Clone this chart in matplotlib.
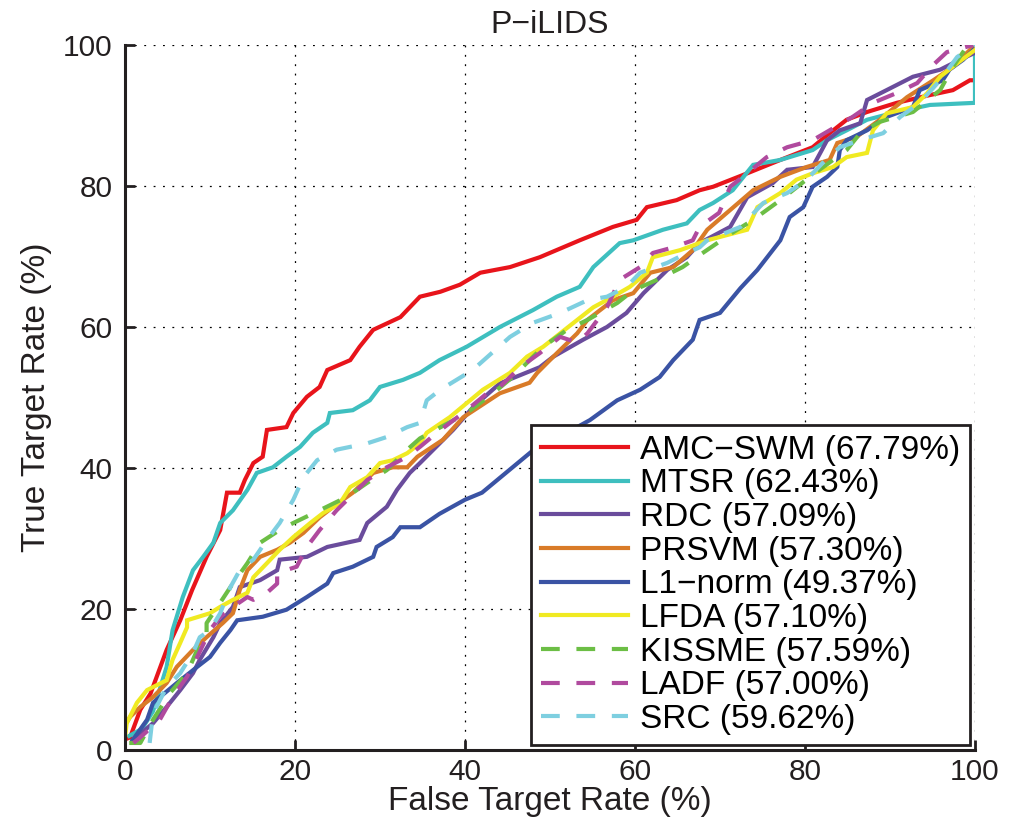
import matplotlib
matplotlib.use("Agg")
import matplotlib.pyplot as plt

# ===== data =====
amc_x = [0, 0.6, 1.8, 3.0, 4.9, 6.5, 7.9, 9.6, 11.2, 12.0, 13.5, 14.1, 15.1, 16.2, 16.7, 19.0, 19.8, 21.4,
         22.9, 23.8, 26.5, 27.6, 29.2, 32.4, 34.7, 37.1, 39.4, 41.8, 45.3, 48.8, 53.5, 57.4, 60.2, 61.4,
         64.9, 67.6, 69.2, 73.2, 77.1, 80.9, 82.9, 84.9, 87.3, 90.8, 94.7, 97.4, 99.4, 100]
amc_y = [1.5, 1.8, 5.7, 8.0, 14.2, 18.4, 22.7, 27.4, 31.2, 36.5, 36.5, 38.3, 40.7, 41.6, 45.4, 45.8, 47.8, 50.1,
         51.5, 53.9, 55.3, 57.2, 59.6, 61.4, 64.3, 65.0, 66.0, 67.7, 68.5, 69.9, 72.3, 74.2, 75.2, 77.0,
         78.0, 79.4, 79.9, 81.8, 83.7, 85.5, 87.5, 89.4, 90.5, 91.8, 92.9, 93.6, 95.0, 95.0]

mtsr_x = [0.5, 2.0, 3.3, 4.9, 5.6, 6.8, 8.0, 9.2, 10.4, 11.2, 12.7, 14.4, 15.5, 17.4, 19.0, 20.6, 22.1, 23.8,
          24.1, 26.8, 28.8, 30.0, 32.7, 34.7, 37.0, 40.2, 44.1, 48.0, 50.8, 53.5, 55.1, 58.2, 59.8, 63.3,
          66.1, 67.6, 69.2, 71.5, 73.9, 77.1, 80.9, 82.6, 84.9, 87.3, 90.8, 94.7, 100, 100]
mtsr_y = [2.0, 3.0, 5.5, 11.8, 17.0, 21.7, 25.5, 27.4, 29.4, 32.2, 34.0, 36.9, 39.3, 40.1, 41.6, 43.0, 45.0, 46.4,
          47.8, 48.2, 49.6, 51.5, 52.5, 53.5, 55.3, 57.2, 60.0, 62.4, 64.3, 65.7, 68.5, 71.9, 72.3, 73.8,
          74.7, 76.6, 77.6, 79.4, 83.0, 83.7, 85.1, 86.5, 87.9, 89.4, 90.5, 91.5, 91.8, 100]

rdc_x = [0.9, 3.3, 4.9, 6.5, 8.0, 8.8, 10.4, 11.2, 12.7, 13.5, 15.9, 17.9, 18.2, 21.4, 23.8, 27.6, 28.5, 30.8,
         32.0, 33.5, 34.7, 38.6, 41.0, 44.1, 48.8, 50.4, 53.9, 56.7, 59.0, 61.0, 63.8, 66.1, 67.6, 71.2,
         73.2, 76.2, 77.9, 80.9, 81.8, 82.6, 84.1, 86.5, 87.3, 89.6, 92.7, 95.9, 98.2, 100]
rdc_y = [1.4, 3.8, 6.1, 8.5, 10.9, 12.8, 16.0, 18.0, 20.3, 23.1, 24.1, 25.5, 27.0, 27.4, 28.8, 29.8, 32.2, 34.5,
         36.9, 39.3, 40.7, 45.4, 48.7, 52.0, 54.3, 55.8, 58.2, 60.0, 62.0, 64.8, 68.1, 69.9, 71.9, 74.2,
         78.4, 80.4, 82.3, 82.7, 84.7, 86.5, 87.9, 88.9, 92.2, 93.6, 95.5, 96.5, 97.9, 98.9]

prsvm_x = [0, 0.6, 1.8, 3.3, 4.9, 6.1, 8.0, 9.6, 11.5, 12.7, 13.5, 14.4, 15.9, 17.9, 19.4, 21.0, 22.9, 24.5,
           26.8, 29.2, 31.5, 33.2, 34.4, 37.4, 39.8, 44.1, 47.6, 48.5, 50.4, 53.2, 54.4, 57.4, 59.8, 61.8,
           64.5, 66.8, 68.5, 71.2, 73.9, 77.1, 80.2, 82.9, 83.8, 86.1, 88.8, 92.0, 95.1, 97.4, 99.4, 100]
prsvm_y = [3.5, 4.7, 6.1, 7.5, 9.5, 11.8, 14.2, 16.0, 18.0, 19.4, 22.7, 25.5, 27.4, 28.4, 29.4, 30.8, 33.0, 34.5,
           36.5, 39.3, 40.1, 40.1, 41.6, 44.0, 47.2, 50.6, 52.1, 53.5, 55.8, 59.1, 61.0, 63.8, 64.8, 67.7,
           68.5, 70.9, 73.8, 76.6, 79.4, 81.3, 82.7, 83.7, 86.1, 87.0, 89.4, 92.6, 95.0, 96.9, 99.3, 100]

l1_x = [0.9, 2.6, 3.3, 6.1, 8.5, 10.0, 11.2, 12.4, 13.2, 16.2, 19.0, 21.4, 23.8, 24.5, 26.8, 29.2, 29.6, 31.5,
        32.4, 34.7, 37.0, 40.0, 42.0, 44.0, 46.5, 48.0, 50.0, 52.0, 54.7, 57.9, 60.6, 62.9, 64.5, 66.8,
        67.6, 70.0, 72.4, 74.4, 77.1, 78.2, 79.8, 80.9, 82.6, 83.8, 84.1, 84.9, 87.3, 89.6, 92.7, 93.5,
        96.2, 97.0, 98.6, 99.8]
l1_y = [1.4, 4.3, 6.7, 9.5, 11.8, 13.2, 15.2, 17.0, 18.4, 18.9, 19.9, 21.7, 23.6, 25.1, 26.0, 27.4, 28.8, 30.2,
        31.6, 31.6, 33.5, 35.5, 36.5, 38.5, 41.0, 42.5, 44.0, 45.0, 46.8, 49.6, 51.1, 52.9, 55.3, 58.2,
        61.0, 62.0, 65.5, 68.1, 72.3, 75.6, 77.0, 79.9, 81.3, 82.7, 85.1, 86.5, 87.9, 89.8, 91.2, 93.6,
        95.0, 96.5, 97.9, 99.3]

lfda_x = [0, 0.2, 1.4, 2.6, 4.9, 5.6, 6.5, 7.3, 7.3, 10.0, 11.2, 12.7, 14.4, 15.1, 16.7, 18.2, 19.8, 21.8,
          23.3, 25.3, 26.5, 28.5, 30.0, 31.5, 33.2, 34.7, 35.5, 38.2, 42.1, 45.3, 47.3, 49.2, 51.2, 53.2,
          55.1, 57.4, 59.4, 61.4, 62.1, 65.3, 67.6, 68.5, 73.2, 74.4, 77.1, 79.0, 80.9, 83.3, 84.9, 87.3,
          88.0, 89.6, 92.7, 94.4, 95.9, 97.9, 100]
lfda_y = [1.8, 3.8, 6.7, 8.5, 9.9, 12.8, 15.2, 17.4, 18.4, 19.4, 20.3, 21.3, 22.3, 24.5, 26.5, 28.4, 30.2, 32.2,
          33.6, 35.0, 37.3, 38.7, 40.7, 41.1, 42.1, 43.5, 45.0, 47.2, 51.1, 53.5, 55.8, 57.2, 59.1, 61.0,
          62.8, 64.3, 65.7, 67.7, 69.9, 70.9, 71.9, 72.3, 73.8, 77.0, 79.0, 80.9, 81.8, 82.7, 84.1, 84.7,
          87.9, 90.3, 91.2, 93.2, 95.5, 97.4, 99.3]

kissme_x = [0.5, 1.8, 3.3, 5.3, 7.3, 8.5, 9.6, 9.6, 11.2, 12.4, 14.4, 15.9, 18.2, 19.8, 22.9, 26.1, 28.5,
            30.8, 33.2, 34.7, 40.2, 43.3, 45.6, 49.2, 52.0, 54.4, 57.9, 59.8, 62.6, 65.6, 67.6, 71.5, 73.9,
            77.1, 80.9, 84.9, 86.5, 88.8, 92.7, 95.9, 97.4, 99.0, 100]
kissme_y = [1.0, 1.0, 4.3, 8.1, 10.9, 14.2, 16.0, 18.0, 20.9, 23.1, 26.5, 29.4, 31.2, 32.2, 34.0, 35.9, 37.9,
            39.7, 42.6, 44.2, 47.8, 50.6, 52.9, 57.2, 59.6, 61.0, 63.4, 65.2, 66.7, 68.5, 70.2, 73.4, 75.2,
            78.0, 81.6, 85.1, 87.5, 89.1, 90.5, 93.6, 96.9, 99.7, 100]

ladf_x = [1.0, 1.8, 4.1, 5.6, 7.3, 8.5, 10.0, 11.2, 12.7, 14.4, 15.1, 16.7, 17.9, 17.9, 20.2, 21.4, 22.9,
          24.9, 28.5, 30.8, 33.2, 34.7, 36.7, 40.2, 42.6, 44.1, 46.5, 48.8, 51.2, 53.2, 54.4, 56.7, 58.2,
          60.6, 62.1, 64.5, 66.8, 67.6, 69.9, 71.2, 73.2, 75.5, 77.9, 80.9, 82.9, 85.6, 88.0, 90.8, 93.2,
          95.1, 96.7, 99.8]
ladf_y = [1.0, 1.8, 4.3, 7.5, 10.4, 13.2, 17.0, 18.9, 20.3, 21.7, 21.3, 22.3, 23.6, 25.1, 26.0, 28.8, 31.2,
          34.0, 38.3, 40.1, 41.6, 43.0, 45.0, 48.2, 50.6, 51.5, 54.3, 56.3, 58.6, 57.8, 59.1, 62.8, 66.7,
          68.5, 70.5, 71.3, 72.3, 74.2, 76.2, 79.9, 81.8, 84.1, 85.5, 86.5, 87.9, 89.8, 91.8, 93.2, 94.6,
          97.2, 99.0, 100]

src_x = [2.9, 3.3, 4.9, 6.5, 8.0, 8.8, 10.0, 11.2, 12.4, 13.5, 15.1, 16.7, 18.2, 19.8, 21.0, 22.6, 24.9,
         28.5, 30.8, 33.2, 34.7, 35.5, 37.1, 40.9, 45.3, 48.0, 51.2, 54.4, 56.7, 59.0, 60.6, 63.8, 66.1,
         67.6, 68.5, 72.4, 75.1, 77.9, 80.2, 82.1, 84.1, 86.5, 89.2, 91.2, 93.5, 95.9, 97.9, 100]
src_y = [1.0, 5.2, 8.9, 10.9, 13.8, 16.0, 17.0, 19.4, 23.1, 25.5, 27.0, 29.8, 32.2, 35.5, 38.7, 41.1, 42.6,
         43.5, 44.4, 45.8, 46.4, 49.6, 51.1, 53.9, 58.6, 60.6, 62.0, 63.8, 64.3, 65.7, 67.7, 69.1, 70.5,
         71.3, 72.3, 74.2, 77.6, 79.0, 80.9, 83.3, 85.5, 86.5, 87.5, 89.8, 91.8, 95.0, 98.3, 100]

labels = ["AMC\u2212SWM (67.79%)", "MTSR (62.43%)", "RDC (57.09%)", "PRSVM (57.30%)",
          "L1\u2212norm (49.37%)", "LFDA (57.10%)", "KISSME (57.59%)", "LADF (57.00%)", "SRC (59.62%)"]

# ===== style =====
plt.rcParams["font.family"] = ["Liberation Sans", "DejaVu Sans"]
colors = ["#E8141B", "#3EBFBF", "#6A4C9C", "#D97B28", "#3A53A4",
          "#F0EA22", "#6CBE45", "#B04A9E", "#7ECFE0"]
series = [(amc_x, amc_y), (mtsr_x, mtsr_y), (rdc_x, rdc_y), (prsvm_x, prsvm_y), (l1_x, l1_y),
          (lfda_x, lfda_y), (kissme_x, kissme_y), (ladf_x, ladf_y), (src_x, src_y)]
dashed = [False] * 6 + [True] * 3

fig = plt.figure(figsize=(10.22, 8.23), dpi=100)
ax = fig.add_axes([0.1223, 0.0887, 0.8317, 0.8566])

handles = []
for (xs, ys), c, lab, d in zip(series, colors, labels, dashed):
    kw = dict(dashes=(4.5, 4)) if d else {}
    h, = ax.plot(xs, ys, color=c, lw=3, label=lab, solid_joinstyle="miter", **kw)
    handles.append(h)

ax.set_xlim(0, 100)
ax.set_ylim(0, 100)
ax.set_xticks(range(0, 101, 20))
ax.set_yticks(range(0, 101, 20))
ax.grid(True, color="black", linestyle=(0, (1.5, 6)), linewidth=0.9)
ax.spines["top"].set_visible(False)
ax.spines["right"].set_visible(False)
for s in ("left", "bottom"):
    ax.spines[s].set_linewidth(2.2)
    ax.spines[s].set_color("#231f20")
ax.tick_params(direction="in", length=7, width=2, labelsize=21.5, colors="#231f20")
ax.tick_params(axis="y", pad=9)
ax.tick_params(axis="x", pad=6)

ax.set_title("P\u2212iLIDS", fontsize=23, pad=9, color="#231f20")
ax.set_xlabel("False Target Rate (%)", fontsize=24, labelpad=0, color="#231f20")
ax.set_ylabel("True Target Rate (%)", fontsize=24, labelpad=8, color="#231f20")

leg = ax.legend(handles=handles, loc="lower right", fontsize=24, frameon=True, fancybox=False,
                edgecolor="#231f20", framealpha=1, borderaxespad=0.15, handlelength=2.6,
                handletextpad=0.35, labelspacing=0.08, borderpad=0.3)
leg.get_frame().set_linewidth(2)

fig.savefig("out.png", dpi=100)
